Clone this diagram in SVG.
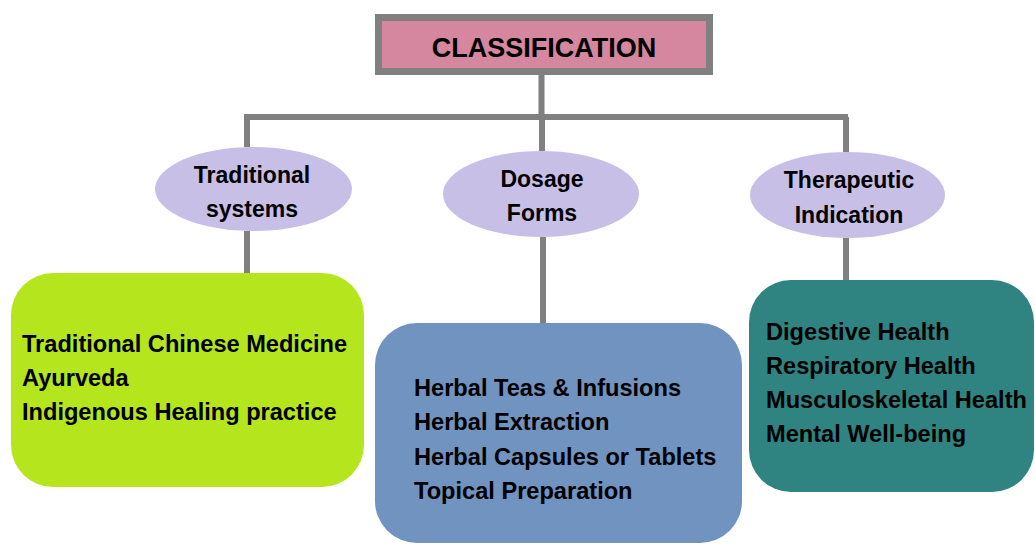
<svg xmlns="http://www.w3.org/2000/svg" width="1035" height="545" viewBox="0 0 1035 545">
<style>
.conn{stroke:#808080;stroke-width:6;fill:none}
.oval{fill:#c8bfe7}
.t{font-family:"Liberation Sans",Arial,sans-serif;font-weight:bold;fill:#000}
.ol{font-size:23px;text-anchor:middle}
.bx{font-size:23.6px}
</style>
<rect width="1035" height="545" fill="#ffffff"/>
<g id="connectors">
<path class="conn" d="M541.5 75 V117 M246 117 H848 M247 114 V147 M542 117 V151 M846 117 V152 M247 231 V273 M543 237 V323 M846 238 V280"/>
</g>
<g id="classification">
<rect x="378.5" y="17.5" width="331" height="54" fill="#d5879f" stroke="#808080" stroke-width="7"/>
<text class="t" x="544" y="57" font-size="27" text-anchor="middle">CLASSIFICATION</text>
</g>
<g id="traditional-systems">
<ellipse class="oval" cx="253.5" cy="189" rx="98.5" ry="42"/>
<text class="t ol" x="252" y="183">Traditional</text>
<text class="t ol" x="252" y="217">systems</text>
</g>
<g id="dosage-forms">
<ellipse class="oval" cx="541" cy="194" rx="98" ry="43"/>
<text class="t ol" x="542" y="187">Dosage</text>
<text class="t ol" x="542" y="221">Forms</text>
</g>
<g id="therapeutic-indication">
<ellipse class="oval" cx="847.5" cy="195" rx="97.5" ry="43"/>
<text class="t ol" x="849" y="188">Therapeutic</text>
<text class="t ol" x="849" y="223">Indication</text>
</g>
<g id="traditional-list">
<rect x="11" y="273" width="353" height="214" rx="42" ry="42" fill="#b5e61d"/>
<text class="t bx" x="22" y="352">Traditional Chinese Medicine</text>
<text class="t bx" x="22" y="386">Ayurveda</text>
<text class="t bx" x="22" y="420">Indigenous Healing practice</text>
</g>
<g id="dosage-list">
<rect x="375" y="323" width="367" height="220" rx="42" ry="42" fill="#7093c0"/>
<text class="t bx" x="414" y="396">Herbal Teas &amp; Infusions</text>
<text class="t bx" x="414" y="430">Herbal Extraction</text>
<text class="t bx" x="414" y="465">Herbal Capsules or Tablets</text>
<text class="t bx" x="414" y="499">Topical Preparation</text>
</g>
<g id="therapeutic-list">
<rect x="749" y="280" width="285" height="212" rx="42" ry="42" fill="#2f8481"/>
<text class="t bx" x="766" y="340">Digestive Health</text>
<text class="t bx" x="766" y="374">Respiratory Health</text>
<text class="t bx" x="766" y="408">Musculoskeletal Health</text>
<text class="t bx" x="766" y="442">Mental Well-being</text>
</g>
</svg>
